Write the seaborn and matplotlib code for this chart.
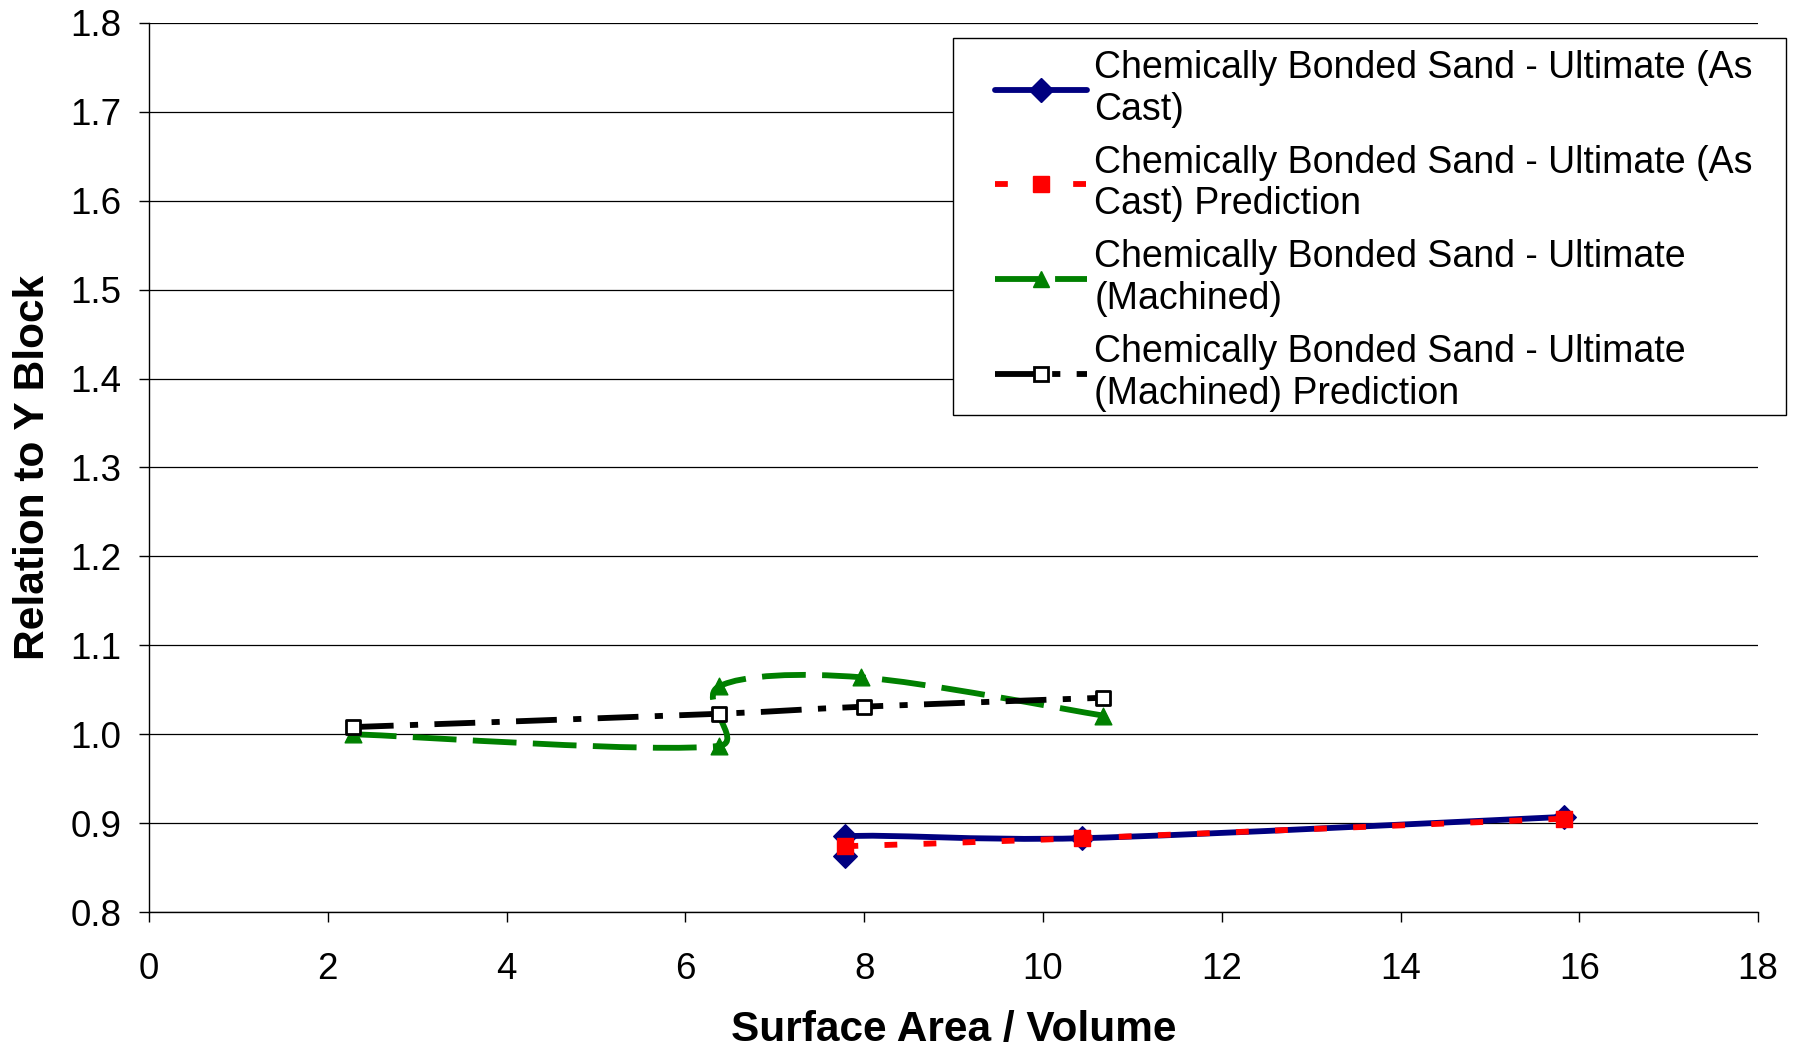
import numpy as np
import pandas as pd
import matplotlib
matplotlib.use("Agg")
import matplotlib.pyplot as plt
from matplotlib.path import Path
from matplotlib.patches import PathPatch, Rectangle
from matplotlib.lines import Line2D
import seaborn as sns

# ---- data -------------------------------------------------------------
as_cast_x = [7.79, 7.79, 10.44, 15.83]
as_cast_y = [0.863, 0.885, 0.883, 0.907]

as_cast_pred_x = [7.79, 10.44, 15.83]
as_cast_pred_y = [0.874, 0.883, 0.905]

machined_x = [2.28, 6.38, 6.38, 7.97, 10.67]
machined_y = [1.000, 0.987, 1.054, 1.064, 1.021]

machined_pred_x = [2.28, 6.38, 8.00, 10.67]
machined_pred_y = [1.008, 1.023, 1.031, 1.041]

labels = [
    "Chemically Bonded Sand - Ultimate (As\nCast)",
    "Chemically Bonded Sand - Ultimate (As\nCast) Prediction",
    "Chemically Bonded Sand - Ultimate\n(Machined)",
    "Chemically Bonded Sand - Ultimate\n(Machined) Prediction",
]

x_ticks = [0, 2, 4, 6, 8, 10, 12, 14, 16, 18]
y_ticks = [0.8, 0.9, 1.0, 1.1, 1.2, 1.3, 1.4, 1.5, 1.6, 1.7, 1.8]

# ---- style ------------------------------------------------------------
sns.set_style("white")
plt.rcParams["font.family"] = ["Liberation Sans", "DejaVu Sans"]
plt.rcParams["text.color"] = "black"
plt.rcParams["axes.labelcolor"] = "black"
FS = 26.5
LEG_FS = 27
W, H = 1797, 1049

fig = plt.figure(figsize=(W / 100, H / 100), dpi=100)
ax = fig.add_axes([0.0829, 0.1306, 0.8955, 0.8475])
ax.set_xlim(0, 18)
ax.set_ylim(0.8, 1.8)

# pixel scale of one data unit (smoothing is done in screen proportions)
SX = 1609 / 18.0
SY = 889 / 1.0


def smooth_path(xs, ys):
    """Cubic Bezier path through the points (Catmull-Rom style smoothing)."""
    pts = np.column_stack([np.asarray(xs) * SX, np.asarray(ys) * SY])
    n = len(pts)
    tang = []
    for i in range(n):
        a = pts[max(i - 1, 0)]
        b = pts[min(i + 1, n - 1)]
        tang.append((b - a) / 6.0)
    verts = [pts[0]]
    codes = [Path.MOVETO]
    for i in range(n - 1):
        p0, p1 = pts[i], pts[i + 1]
        seg = np.linalg.norm(p1 - p0)
        t0, t1 = tang[i], tang[i + 1]
        lim = 0.45 * seg
        if np.linalg.norm(t0) > lim:
            t0 = t0 / np.linalg.norm(t0) * lim
        if np.linalg.norm(t1) > lim:
            t1 = t1 / np.linalg.norm(t1) * lim
        verts += [p0 + t0, p1 - t1, p1]
        codes += [Path.CURVE4] * 3
    verts = np.array(verts) / np.array([SX, SY])
    return Path(verts, codes)


series = [
    dict(x=as_cast_x, y=as_cast_y, color="#000080", lw=4.2, ls="-",
         marker="D", ms=12, mfc="#000080", mec="#000080", mew=1, z=3),
    dict(x=as_cast_pred_x, y=as_cast_pred_y, color="#FF0000", lw=4.2,
         ls=(0, (2.2, 4.5)), marker="s", ms=11, mfc="#FF0000", mec="#FF0000", mew=1, z=4),
    dict(x=machined_x, y=machined_y, color="#008000", lw=4.2,
         ls=(0, (7.5, 2.8)), marker="^", ms=12, mfc="#008000", mec="#008000", mew=1, z=3),
    dict(x=machined_pred_x, y=machined_pred_y, color="#000000", lw=4.2,
         ls=(0, (7, 2.8, 1.4, 2.8)), marker="s", ms=10, mfc="white", mec="#000000", mew=2, z=4),
]

# gridlines
ax.set_yticks(y_ticks)
ax.set_xticks(x_ticks)
ax.yaxis.grid(True, color="#000000", lw=0.9)
ax.xaxis.grid(False)
ax.set_axisbelow(True)

handles = []
for s in series:
    patch = PathPatch(smooth_path(s["x"], s["y"]), facecolor="none",
                      edgecolor=s["color"], lw=s["lw"], linestyle=s["ls"],
                      capstyle="butt", joinstyle="round", zorder=s["z"])
    ax.add_patch(patch)
    df = pd.DataFrame({"x": s["x"], "y": s["y"]})
    sns.scatterplot(data=df, x="x", y="y", ax=ax, marker=s["marker"],
                    s=s["ms"] ** 2, color=s["mfc"], edgecolor=s["mec"],
                    linewidth=s["mew"], zorder=s["z"] + 1, legend=False)
    handles.append(Line2D([], [], color=s["color"], lw=s["lw"], linestyle=s["ls"],
                          marker=s["marker"], markersize=s["ms"],
                          markerfacecolor=s["mfc"], markeredgecolor=s["mec"],
                          markeredgewidth=s["mew"], dash_capstyle="butt"))

# axes, ticks, labels
for side in ["top", "right"]:
    ax.spines[side].set_visible(False)
for side in ["left", "bottom"]:
    ax.spines[side].set_color("#000000")
    ax.spines[side].set_linewidth(1.0)
ax.tick_params(axis="both", which="major", direction="out", length=7, width=1,
               color="#000000", labelsize=FS, labelcolor="#000000",
               left=True, bottom=True)
ax.tick_params(axis="x", pad=22)
ax.tick_params(axis="y", pad=13)
ax.set_yticklabels([f"{v:.1f}" for v in y_ticks])
ax.set_xticklabels([str(v) for v in x_ticks])
ax.set_xlabel("Surface Area / Volume", fontsize=30.5, fontweight="bold",
              labelpad=16, color="black")
ax.set_ylabel("Relation to Y Block", fontsize=30.5, fontweight="bold",
              labelpad=12, color="black")

# legend box and entries
box_l, box_t, box_r, box_b = 953.5, 37.8, 1785.6, 414.9
frame = Rectangle((box_l / W, 1 - box_b / H), (box_r - box_l) / W, (box_b - box_t) / H,
                  transform=fig.transFigure, facecolor="white", edgecolor="#000000",
                  lw=1.0, zorder=4)
fig.add_artist(frame)

leg = fig.legend(handles, labels, loc="upper left",
                 bbox_to_anchor=(995 / W, 1 - 50 / H), bbox_transform=fig.transFigure,
                 fontsize=LEG_FS, frameon=False, borderpad=0, handlelength=2.44,
                 handletextpad=0.21, labelspacing=0.455, borderaxespad=0,
                 labelcolor="black")
leg.set_zorder(5)

fig.savefig("out.png", dpi=100)
